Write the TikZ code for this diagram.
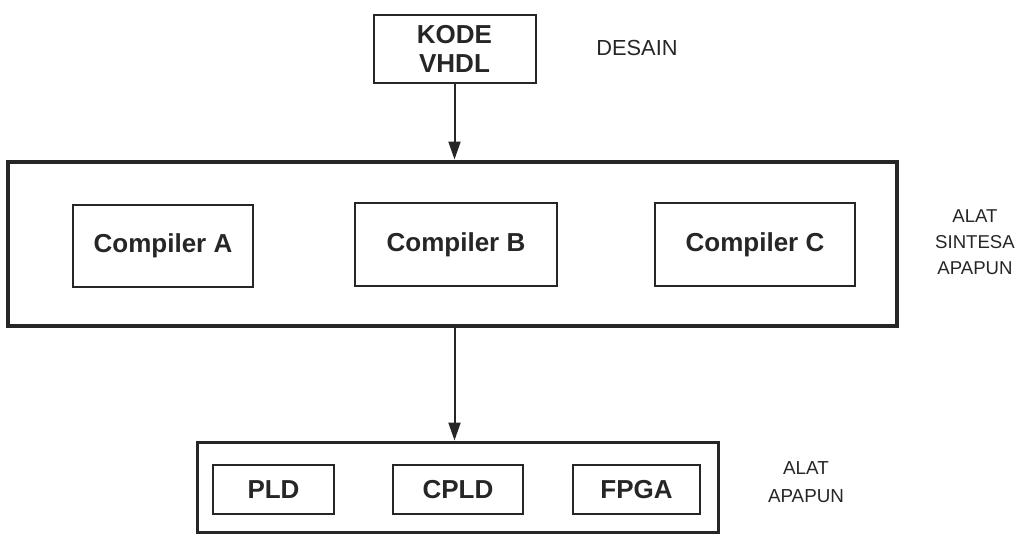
\documentclass[tikz,border=0pt]{standalone}
\usepackage{fontspec}
\setmainfont{Liberation Sans}
\usetikzlibrary{arrows.meta}
\begin{document}
\begin{tikzpicture}[x=0.5pt, y=-0.5pt, color=black!85,
  box/.style={draw, line width=1pt, inner sep=0pt, align=center, font=\bfseries\fontsize{13}{14.5}\selectfont},
  bigbox/.style={draw, inner sep=0pt},
  lbl/.style={inner sep=0pt, align=center},
  arr/.style={line width=1pt, -{Triangle[length=9pt, width=6pt]}}]
\useasboundingbox (0,0) rectangle (1022,535);
% desain
\node[box, minimum width=81pt, minimum height=34pt] (kode) at (454.5,49) {KODE\\VHDL};
\node[lbl, font=\fontsize{10.9}{13}\selectfont] (desain) at (637,48) {DESAIN};
% alat sintesa
\node[bigbox, line width=2pt, minimum width=444.5pt, minimum height=82pt] (sintesa) at (452.5,243.5) {};
\node[box, minimum width=90pt, minimum height=41pt] (compA) at (163,246) {Compiler A};
\node[box, minimum width=101pt, minimum height=41.5pt] (compB) at (456,244.5) {Compiler B};
\node[box, minimum width=100pt, minimum height=41.5pt] (compC) at (755,244.5) {Compiler C};
\node[lbl, font=\fontsize{9.3}{13}\selectfont] (lblsintesa) at (975,242) {ALAT\\SINTESA\\APAPUN};
% alat
\node[bigbox, line width=1.5pt, minimum width=260.5pt, minimum height=45pt] (alat) at (457.5,487) {};
\node[box, minimum width=60.5pt, minimum height=24.5pt] (pld) at (273.5,489.5) {PLD};
\node[box, minimum width=65pt, minimum height=24.5pt] (cpld) at (458,489.5) {CPLD};
\node[box, minimum width=63.5pt, minimum height=24.5pt] (fpga) at (636.5,489.5) {FPGA};
\node[lbl, font=\fontsize{9.4}{14}\selectfont] (lblalat) at (806,482) {ALAT\\APAPUN};
% panah
\draw[arr] (kode.south) -- (kode.south |- sintesa.north);
\draw[arr] (sintesa.south -| kode.south) -- (kode.south |- alat.north);
\end{tikzpicture}
\end{document}
